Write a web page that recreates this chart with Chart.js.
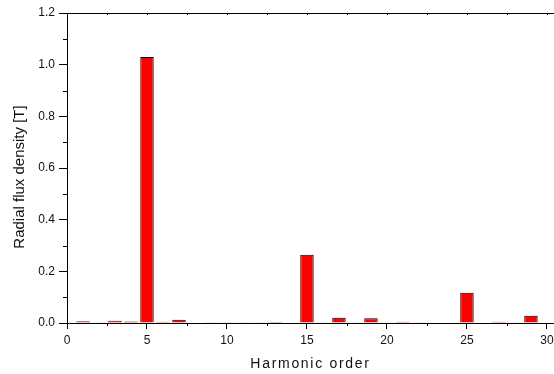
<!DOCTYPE html>
<html>
<head>
<meta charset="utf-8">
<script src="https://cdn.jsdelivr.net/npm/chart.js@4/dist/chart.umd.min.js"></script>
<style>
html, body { margin: 0; padding: 0; background: #fff; }
</style>
</head>
<body>
<canvas id="harmonics" width="554" height="374"></canvas>
<script>
// harmonic spectrum of the radial flux density
const harmonicOrder = [1, 2, 3, 4, 5, 6, 7, 8, 9, 10, 11, 12, 13, 14, 15,
                       16, 17, 18, 19, 20, 21, 22, 23, 24, 25, 26, 27, 28, 29, 30];
const fluxDensity = [0.007, 0.003, 0.009, 0.006, 1.03, 0.005, 0.013, 0.002, 0.001, 0.001,
                     0.001, 0.001, 0.004, 0.002, 0.264, 0.003, 0.020, 0.003, 0.018, 0.003,
                     0.005, 0.001, 0.002, 0.002, 0.117, 0.002, 0.005, 0.003, 0.028, 0.002];

const xMajor = [0, 5, 10, 15, 20, 25, 30];
const xMinor = [2.5, 7.5, 12.5, 17.5, 22.5, 27.5];
const yMajor = [0, 0.2, 0.4, 0.6, 0.8, 1.0, 1.2];
const yMinor = [0.1, 0.3, 0.5, 0.7, 0.9, 1.1];

const FONT = '"Liberation Sans", Arial, sans-serif';

// minor ticks, the top frame line and the two axis titles
const axisExtras = {
    id: 'axisExtras',
    afterDraw(chart) {
        const ctx = chart.ctx;
        const area = chart.chartArea;
        const x = chart.scales.x;
        const y = chart.scales.y;
        ctx.save();
        ctx.strokeStyle = '#000';
        ctx.lineWidth = 1;
        ctx.beginPath();
        xMinor.forEach(function(v) {
            const px = Math.round(x.getPixelForValue(v)) + 0.5;
            ctx.moveTo(px, area.bottom);
            ctx.lineTo(px, area.bottom + 3);
        });
        yMinor.forEach(function(v) {
            const py = Math.round(y.getPixelForValue(v)) + 0.5;
            ctx.moveTo(area.left, py);
            ctx.lineTo(area.left - 4, py);
        });
        // top frame with small inward ticks
        ctx.moveTo(area.left, area.top + 0.5);
        ctx.lineTo(area.right, area.top + 0.5);
        xMajor.concat(xMinor).forEach(function(v) {
            const px = Math.round(x.getPixelForValue(v)) + 0.5;
            ctx.moveTo(px, area.top);
            ctx.lineTo(px, area.top + 2);
        });
        ctx.stroke();

        ctx.fillStyle = '#111';
        ctx.font = '14px ' + FONT;
        ctx.textAlign = 'center';
        ctx.textBaseline = 'alphabetic';
        ctx.letterSpacing = '1.7px';
        ctx.fillText('Harmonic order', (area.left + area.right) / 2, 368);

        ctx.letterSpacing = '0px';
        ctx.font = '15px ' + FONT;
        ctx.textBaseline = 'middle';
        ctx.translate(20, (area.top + area.bottom) / 2 + 9);
        ctx.rotate(-Math.PI / 2);
        ctx.fillText('Radial flux density [T]', 0, 0);
        ctx.restore();
    }
};

new Chart(document.getElementById('harmonics'), {
    type: 'bar',
    data: {
        datasets: [{
            data: harmonicOrder.map(function(h, i) { return {x: h, y: fluxDensity[i]}; }),
            backgroundColor: '#ff0000',
            borderColor: '#000',
            borderWidth: 1,
            borderSkipped: 'bottom',
            barPercentage: 0.84,
            categoryPercentage: 1
        }]
    },
    options: {
        responsive: false,
        animation: false,
        layout: { padding: { top: 13, right: 0, left: 0, bottom: 0 } },
        plugins: {
            legend: { display: false },
            tooltip: { enabled: false }
        },
        scales: {
            x: {
                type: 'linear',
                min: 0,
                max: 30.44,
                offset: false,
                afterBuildTicks: function(s) { s.ticks = xMajor.map(function(v) { return {value: v}; }); },
                afterFit: function(s) {
                    s.height = 51;
                    s.paddingLeft = 0;
                    s.paddingRight = 0;
                },
                grid: { drawOnChartArea: false, offset: false, tickLength: 6, color: '#000' },
                border: { color: '#000', width: 1 },
                ticks: {
                    color: '#111',
                    font: { family: FONT, size: 12 },
                    padding: 4,
                    maxRotation: 0,
                    autoSkip: false
                }
            },
            y: {
                min: 0,
                max: 1.2,
                afterBuildTicks: function(s) { s.ticks = yMajor.map(function(v) { return {value: v}; }); },
                afterFit: function(s) {
                    s.width = 67;
                    s.paddingTop = 0;
                    s.paddingBottom = 0;
                },
                grid: { drawOnChartArea: false, tickLength: 8, color: '#000' },
                border: { color: '#000', width: 1 },
                ticks: {
                    color: '#111',
                    font: { family: FONT, size: 12 },
                    padding: 4,
                    callback: function(v) { return v.toFixed(1); }
                }
            }
        }
    },
    plugins: [axisExtras]
});
</script>
</body>
</html>
